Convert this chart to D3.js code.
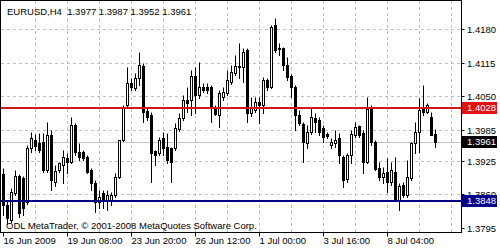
<!DOCTYPE html>
<html>
<head>
<meta charset="utf-8">
<title>EURUSD,H4</title>
<script src="https://cdn.jsdelivr.net/npm/d3@7"></script>
<style>
  body { margin: 0; background: #fff; }
  svg text { font-family: "Liberation Sans", Arial, sans-serif; font-size: 9.5px; }
</style>
</head>
<body>
<svg id="chart"></svg>
<script>
// EURUSD H4 bars, oldest first
const openP = [1.3899,1.3839,1.3810,1.3863,1.3896,1.3892,1.3845,1.3950,1.3965,1.3959,
               1.3961,1.3907,1.3975,1.3884,1.3907,1.3917,1.3930,1.3923,1.3994,1.3942,
               1.3942,1.3932,1.3907,1.3882,1.3845,1.3863,1.3849,1.3849,1.3859,1.3894,
               1.3965,1.4033,1.4076,1.4066,1.4085,1.4108,1.4021,1.4014,1.3944,1.3940,
               1.3969,1.3952,1.3950,1.3950,1.3987,1.4008,1.4043,1.4043,1.4089,1.4052,
               1.4068,1.4068,1.4068,1.4029,1.4014,1.4048,1.4056,1.4077,1.4095,1.4108,
               1.4106,1.4139,1.4017,1.4023,1.4039,1.4033,1.4081,1.4068,1.4188,1.4143,
               1.4143,1.4110,1.4089,1.4068,1.4014,1.3996,1.3959,1.3981,1.4008,1.4004,
               1.3988,1.3977,1.3956,1.3959,1.3969,1.3932,1.3890,1.3936,1.3975,1.3992,
               1.3979,1.3923,1.4025,1.3961,1.3911,1.3894,1.3903,1.3884,1.3903,1.3849,
               1.3878,1.3859,1.3892,1.3959,1.3981,1.4027,1.4019,1.4010,1.3977];
const highP = [1.3911,1.3849,1.3872,1.3907,1.3899,1.3896,1.3956,1.3981,1.3977,1.3979,
               1.3979,1.4000,1.3985,1.3917,1.3923,1.3946,1.3940,1.4010,1.3998,1.3959,
               1.3946,1.3936,1.3911,1.3888,1.3869,1.3869,1.3869,1.3865,1.3901,1.3965,
               1.4033,1.4106,1.4085,1.4095,1.4135,1.4114,1.4027,1.4019,1.3946,1.3971,
               1.3981,1.3979,1.3952,1.3998,1.4017,1.4052,1.4068,1.4101,1.4106,1.4116,
               1.4076,1.4076,1.4072,1.4033,1.4062,1.4068,1.4101,1.4110,1.4130,1.4153,
               1.4143,1.4143,1.4048,1.4048,1.4048,1.4087,1.4085,1.4188,1.4201,1.4153,
               1.4145,1.4126,1.4093,1.4072,1.4023,1.4000,1.3994,1.4027,1.4017,1.4010,
               1.3994,1.3981,1.3969,1.3985,1.3979,1.3936,1.3940,1.3985,1.4000,1.3994,
               1.3985,1.4048,1.4033,1.3965,1.3923,1.3913,1.3930,1.3923,1.3932,1.3882,
               1.3884,1.3927,1.3961,1.4000,1.4047,1.4072,1.4037,1.4019,1.3987];
const lowP  = [1.3820,1.3803,1.3807,1.3859,1.3816,1.3820,1.3841,1.3942,1.3946,1.3942,
               1.3903,1.3903,1.3869,1.3876,1.3903,1.3882,1.3901,1.3921,1.3936,1.3927,
               1.3927,1.3901,1.3869,1.3826,1.3834,1.3834,1.3830,1.3839,1.3855,1.3892,
               1.3963,1.4029,1.4062,1.4062,1.4072,1.4000,1.4004,1.3884,1.3917,1.3936,
               1.3936,1.3921,1.3884,1.3946,1.3983,1.4004,1.4019,1.4014,1.4017,1.4047,
               1.4058,1.4056,1.4000,1.4014,1.3990,1.4043,1.4052,1.4074,1.4091,1.4085,
               1.4077,1.4000,1.4012,1.4019,1.3998,1.4017,1.4062,1.4066,1.4135,1.4130,
               1.4101,1.4081,1.4048,1.3985,1.3994,1.3923,1.3950,1.3977,1.3981,1.3975,
               1.3961,1.3969,1.3950,1.3952,1.3921,1.3874,1.3884,1.3921,1.3971,1.3971,
               1.3901,1.3921,1.3956,1.3907,1.3888,1.3882,1.3865,1.3878,1.3847,1.3830,
               1.3855,1.3855,1.3888,1.3940,1.3942,1.4014,1.4017,1.3975,1.3952];
const closeP = [1.3839,1.3814,1.3865,1.3896,1.3824,1.3834,1.3950,1.3969,1.3954,1.3946,
               1.3907,1.3975,1.3888,1.3905,1.3921,1.3932,1.3923,1.3994,1.3942,1.3932,
               1.3930,1.3903,1.3882,1.3845,1.3855,1.3849,1.3859,1.3859,1.3894,1.3965,
               1.4029,1.4076,1.4068,1.4085,1.4110,1.4019,1.4010,1.3940,1.3936,1.3965,
               1.3950,1.3927,1.3923,1.3988,1.4008,1.4043,1.4037,1.4089,1.4052,1.4068,
               1.4062,1.4062,1.4027,1.4016,1.4056,1.4058,1.4081,1.4097,1.4108,1.4106,
               1.4135,1.4017,1.4029,1.4039,1.4033,1.4081,1.4068,1.4184,1.4139,1.4141,
               1.4110,1.4087,1.4068,1.4014,1.3998,1.3961,1.3981,1.4010,1.4000,1.3981,
               1.3971,1.3973,1.3961,1.3965,1.3936,1.3888,1.3936,1.3977,1.3990,1.3975,
               1.3923,1.4025,1.3961,1.3909,1.3894,1.3901,1.3884,1.3907,1.3849,1.3876,
               1.3859,1.3894,1.3959,1.3981,1.4023,1.4019,1.4033,1.3975,1.3961];

const timeLabels = ["16 Jun 2009", "19 Jun 08:00", "23 Jun 20:00", "26 Jun 12:00",
                    "1 Jul 00:00", "3 Jul 16:00", "8 Jul 04:00"];
const barsPerLabel = 16;
const barsPerGrid = 8;
const priceTicks = [1.4180, 1.4115, 1.4050, 1.3985, 1.3925, 1.3860, 1.3795];
const resistance = 1.4028;
const support = 1.3848;
const symbolName = "EURUSD,H4";

const bars = openP.map((o, i) => ({i: i, o: o, h: highP[i], l: lowP[i], c: closeP[i]}));
const last = bars[bars.length - 1];

const W = 500, H = 250;
const plotRight = 461.5, plotBottom = 232.5;

const svg = d3.select('#chart').attr('width', W).attr('height', H);
svg.append('rect').attr('width', W).attr('height', H).attr('fill', '#fff');

// 4 px per bar
const x = d3.scaleLinear().domain([0, 1]).range([3.5, 7.5]);
const y = d3.scaleLinear().domain([1.4180, 1.3795]).range([29, 228]);
const py = v => Math.round(y(v)) + 0.5;

// grid
const gridBars = d3.range(barsPerGrid, 200, barsPerGrid).filter(i => x(i) < plotRight);
svg.append('g').selectAll('line').data(gridBars).join('line')
    .attr('x1', d => x(d)).attr('x2', d => x(d))
    .attr('y1', 1).attr('y2', plotBottom)
    .attr('stroke', '#c0c0c0').attr('stroke-dasharray', '3,3');
svg.append('g').selectAll('line').data(priceTicks.slice(0, -1)).join('line')
    .attr('x1', 1).attr('x2', plotRight)
    .attr('y1', d => py(d)).attr('y2', d => py(d))
    .attr('stroke', '#c0c0c0').attr('stroke-dasharray', '3,3');

// bid line
svg.append('line')
    .attr('x1', 1).attr('x2', plotRight)
    .attr('y1', py(last.c)).attr('y2', py(last.c))
    .attr('stroke', '#c0c0c0');

// candles
const candles = svg.append('g').selectAll('g').data(bars).join('g');
candles.append('line')
    .attr('x1', d => x(d.i)).attr('x2', d => x(d.i))
    .attr('y1', d => py(d.h)).attr('y2', d => py(d.l) + 0.5)
    .attr('stroke', '#000');
candles.append('rect')
    .attr('x', d => x(d.i) - 1).attr('width', 2)
    .attr('y', d => py(Math.max(d.o, d.c)))
    .attr('height', d => py(Math.min(d.o, d.c)) - py(Math.max(d.o, d.c)))
    .attr('fill', d => d.c >= d.o ? '#fff' : '#000')
    .attr('stroke', '#000');

// horizontal lines
svg.append('line')
    .attr('x1', 1).attr('x2', plotRight)
    .attr('y1', Math.round(y(resistance))).attr('y2', Math.round(y(resistance)))
    .attr('stroke', '#d01818').attr('stroke-width', 2);
svg.append('line')
    .attr('x1', 1).attr('x2', plotRight)
    .attr('y1', Math.round(y(support))).attr('y2', Math.round(y(support)))
    .attr('stroke', '#000080').attr('stroke-width', 2);

// frame
svg.append('rect')
    .attr('x', 0.5).attr('y', 0.5)
    .attr('width', plotRight - 0.5).attr('height', plotBottom - 0.5)
    .attr('fill', 'none').attr('stroke', '#000');

// title and copyright
svg.append('text').attr('x', 7).attr('y', 15).attr('xml:space', 'preserve')
    .text(symbolName + '  ' + [last.o, last.h, last.l, last.c].map(v => v.toFixed(4)).join(' '));
svg.append('text').attr('x', 6).attr('y', 229)
    .text('ODL MetaTrader, \u00a9 2001-2008 MetaQuotes Software Corp.');

// time axis
const timeG = svg.append('g').selectAll('g').data(timeLabels).join('g')
    .attr('transform', (d, k) => `translate(${x(k * barsPerLabel)},0)`);
timeG.append('line').attr('y1', plotBottom).attr('y2', plotBottom + 4).attr('stroke', '#000');
timeG.append('text').attr('x', 0).attr('y', 244).text(d => d);

// price axis
const priceG = svg.append('g').selectAll('g').data(priceTicks).join('g')
    .attr('transform', d => `translate(0,${py(d)})`);
priceG.append('line').attr('x1', plotRight).attr('x2', plotRight + 3).attr('stroke', '#000');
priceG.append('text').attr('x', 467).attr('dy', '0.35em').text(d => d.toFixed(4));

// level tags
const tags = [
    {v: resistance, col: '#e3110f'},
    {v: support, col: '#00008b'},
    {v: last.c, col: '#000'}
];
const tagG = svg.append('g').selectAll('g').data(tags).join('g')
    .attr('transform', d => `translate(0,${Math.round(y(d.v))})`);
tagG.append('rect').attr('x', 462).attr('y', -6).attr('width', 35).attr('height', 12)
    .attr('fill', d => d.col);
tagG.append('text').attr('x', 467).attr('dy', '0.35em').attr('fill', '#fff')
    .text(d => d.v.toFixed(4));
</script>
</body>
</html>
